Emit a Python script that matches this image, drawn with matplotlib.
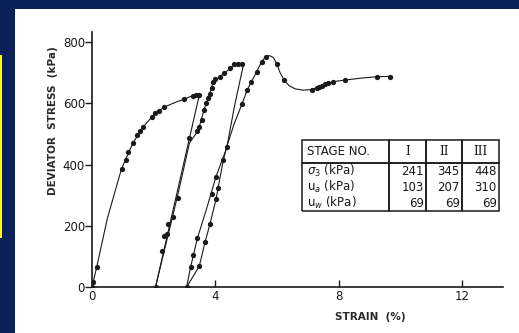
import matplotlib
matplotlib.use('Agg')
import matplotlib.pyplot as plt
from matplotlib.patches import Rectangle
from matplotlib.table import Table

# Stage I loading: measured points and drawn curve
s1_x = [0.0, 0.02, 0.15, 0.96, 1.09, 1.18, 1.32, 1.47, 1.56, 1.66, 1.94, 2.04, 2.18, 2.35, 3.00, 3.26, 3.37, 3.48]
s1_y = [0, 17, 64, 387, 415, 440, 469, 496, 510, 523, 556, 567, 575, 588, 614, 625, 626, 626]
c1_x = [0.0, 0.15, 0.5, 0.96, 1.32, 1.66, 2.04, 2.35, 2.7, 3.0, 3.26, 3.48]
c1_y = [0, 64, 225, 387, 469, 523, 567, 588, 603, 614, 625, 627]

# unloading after stage I
u1_x = [3.48, 2.06]
u1_y = [627, 0]

# Stage II reloading
s2_x = [2.06, 2.28, 2.34, 2.42, 2.48, 2.64, 2.78, 3.16, 3.40, 3.48, 3.56, 3.63, 3.70, 3.77, 3.83,
        3.88, 3.93, 4.00, 4.15, 4.28, 4.48, 4.62, 4.73, 4.86]
s2_y = [0, 118, 168, 172, 206, 230, 290, 486, 509, 523, 545, 578, 600, 616, 632,
        649, 670, 678, 687, 698, 714, 727, 730, 730]
c2_x = [2.06, 2.78, 3.16, 3.40, 3.48, 3.63, 3.77, 3.93, 4.15, 4.48, 4.73, 4.92]
c2_y = [0, 300, 470, 505, 523, 578, 616, 670, 687, 714, 730, 730]

# unloading after stage II
u2_x = [4.92, 4.62, 4.37, 4.02, 3.70, 3.42, 3.20, 3.07]
u2_y = [730, 590, 455, 360, 250, 160, 66, 0]
u2_dot_x = [3.20, 3.29, 3.42, 3.88, 4.02]
u2_dot_y = [66, 104, 160, 305, 360]

# Stage III reloading to failure
s3_x = [3.07, 3.48, 3.67, 3.83, 4.02, 4.10, 4.26, 4.37, 4.86, 5.04, 5.15, 5.34, 5.50, 5.63,
        5.99, 6.23, 7.12, 7.29, 7.37, 7.45, 7.55, 7.67, 7.83, 8.21, 9.23, 9.67]
s3_y = [0, 68, 148, 207, 286, 325, 415, 458, 597, 645, 670, 703, 736, 750,
        730, 676, 645, 650, 653, 657, 662, 667, 671, 676, 687, 686]
c3_x = [3.07, 3.48, 3.67, 3.83, 4.02, 4.26, 4.37, 4.60, 4.86, 5.04, 5.34, 5.50, 5.63, 5.75,
        5.88, 5.99, 6.10, 6.23, 6.40, 6.60, 6.85, 7.12, 7.45, 7.83, 8.21, 8.70, 9.23, 9.72]
c3_y = [0, 68, 148, 207, 286, 415, 458, 530, 597, 645, 703, 736, 752, 756,
        750, 730, 700, 676, 657, 647, 643, 645, 658, 671, 676, 682, 687, 688]

# inset table
tab_head = ['STAGE NO.', 'I', 'II', 'III']
tab_rows = [
    [r'$\sigma_3$ (kPa)', '241', '345', '448'],
    [r'u$_a$ (kPa)', '103', '207', '310'],
    [r'u$_w$ (kPa)', '69', '69', '69'],
]

ink = '#1a1a1a'

fig = plt.figure(figsize=(5.19, 3.33), dpi=100)
fig.patch.set_facecolor('#0b1f58')
fig.add_artist(Rectangle((15 / 519, 0), 504 / 519, 324 / 333, transform=fig.transFigure,
                         facecolor='white', edgecolor='none', zorder=0))
fig.add_artist(Rectangle((0, 95 / 333), 2 / 519, 183 / 333, transform=fig.transFigure,
                         facecolor='#ffff00', edgecolor='none', zorder=0))

ax = fig.add_axes([92 / 519, 46 / 333, 411 / 519, 255 / 333])
ax.set_facecolor('none')

lw = 0.8
ax.plot(c1_x, c1_y, color=ink, lw=lw)
ax.plot(u1_x, u1_y, color=ink, lw=lw)
ax.plot(c2_x, c2_y, color=ink, lw=lw)
ax.plot(u2_x, u2_y, color=ink, lw=lw)
ax.plot(c3_x, c3_y, color=ink, lw=lw)
for xs, ys in [(s1_x, s1_y), (s2_x, s2_y), (u2_dot_x, u2_dot_y), (s3_x, s3_y)]:
    ax.plot(xs, ys, 'o', color=ink, ms=3.8, mew=0)

ax.set_xlim(0, 13.33)
ax.set_ylim(0, 833)
for side in ['top', 'right']:
    ax.spines[side].set_visible(False)
for side in ['left', 'bottom']:
    ax.spines[side].set_linewidth(1.2)
    ax.spines[side].set_color(ink)

ax.set_xticks([0, 4, 8, 12])
ax.set_yticks([0, 200, 400, 600, 800])
ax.tick_params(axis='x', direction='in', length=5, width=1, colors=ink, labelsize=8.5, pad=2)
ax.tick_params(axis='y', direction='out', length=5, width=1, colors=ink, labelsize=8.5, pad=0)

fig.text(53 / 519, 1 - 121 / 333, 'DEVIATOR  STRESS  (kPa)', rotation=90, ha='center', va='center',
         fontsize=7.5, fontweight='bold', color='#2a2a2a')
fig.text(370 / 519, 1 - 317 / 333, 'STRAIN  (%)', ha='center', va='center', fontsize=7.5,
         fontweight='bold', color='#2a2a2a')

# table
tab = Table(ax, bbox=[0.511, 0.298, 0.479, 0.278])
col_w = [87, 37, 36, 37]
for c, t in enumerate(tab_head):
    cell = tab.add_cell(0, c, width=col_w[c], height=23, text=t,
                        loc='left' if c == 0 else 'center', facecolor='none', edgecolor=ink)
    cell.set_linewidth(1.1)
    cell.PAD = 0.06
    if c > 0:
        cell.get_text().set_family('DejaVu Serif')
for r, row in enumerate(tab_rows, start=1):
    for c, t in enumerate(row):
        cell = tab.add_cell(r, c, width=col_w[c], height=16, text=t,
                            loc='left' if c == 0 else 'right', facecolor='none', edgecolor=ink)
        cell.set_linewidth(1.1)
        cell.PAD = 0.06
        if r == 1:
            cell.visible_edges = 'LRT'
        elif r == len(tab_rows):
            cell.visible_edges = 'LRB'
        else:
            cell.visible_edges = 'LR'
tab.auto_set_font_size(False)
tab.set_fontsize(8.5)
for cell in tab.get_celld().values():
    cell.get_text().set_color(ink)
ax.add_table(tab)

fig.savefig('out.png', dpi=100, facecolor=fig.get_facecolor())
